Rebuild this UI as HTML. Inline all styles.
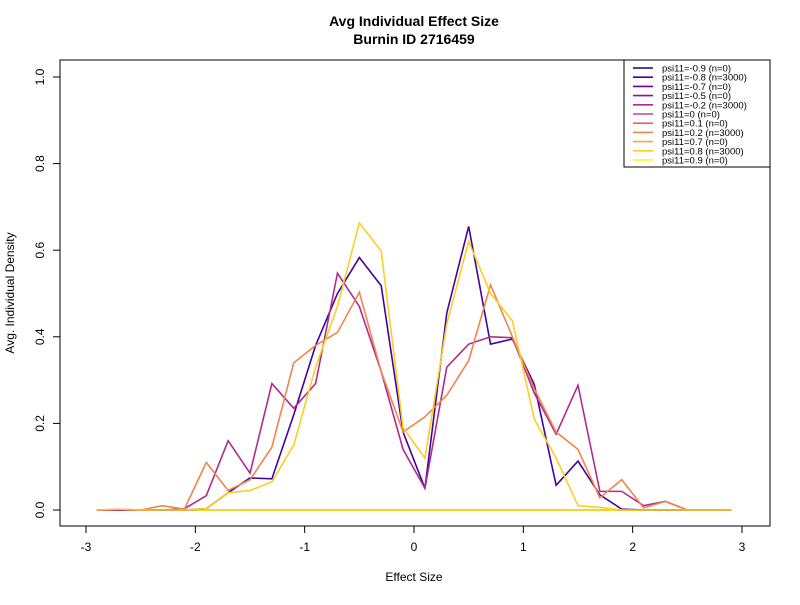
<!DOCTYPE html>
<html><head><meta charset="utf-8"><style>
body{margin:0;background:#fff;font-family:"Liberation Sans",sans-serif}
svg text{font-family:"Liberation Sans",sans-serif}
</style></head><body>
<svg id="chart" width="800" height="600">
<rect width="800" height="600" fill="#fff"/>
<text x="414" y="26" text-anchor="middle" font-size="14" font-weight="bold">Avg Individual Effect Size</text>
<text x="414" y="44" text-anchor="middle" font-size="14" font-weight="bold">Burnin ID 2716459</text>
<rect x="60" y="60" width="710" height="466" fill="none" stroke="#000"/>
<text x="414" y="581" text-anchor="middle" font-size="12">Effect Size</text>
<text transform="translate(14,293) rotate(-90)" text-anchor="middle" font-size="12">Avg. Individual Density</text>
<g id="axes"></g><g id="series"></g><g id="legend"></g>
</svg>
<script>
const xs=[-2.9,-2.7,-2.5,-2.3,-2.1,-1.9,-1.7,-1.5,-1.3,-1.1,-0.9,-0.7,-0.5,-0.3,-0.1,0.1,0.3,0.5,0.7,0.9,1.1,1.3,1.5,1.7,1.9,2.1,2.3,2.5,2.7,2.9];
const seriesNames=["psi11=-0.9 (n=0)","psi11=-0.8 (n=3000)","psi11=-0.7 (n=0)","psi11=-0.5 (n=0)","psi11=-0.2 (n=3000)","psi11=0 (n=0)","psi11=0.1 (n=0)","psi11=0.2 (n=3000)","psi11=0.7 (n=0)","psi11=0.8 (n=3000)","psi11=0.9 (n=0)"];
const seriesColors=["#0D0887","#41049D","#6A00A8","#8F0DA4","#B12A90","#CC4778","#E16462","#F2844B","#FCA636","#FCCE25","#F0F921"];
const zeros=xs.map(()=>0);
const vM08=[0,0,0,0,0,0.003,0.04,0.074,0.072,0.22,0.38,0.50,0.583,0.518,0.18,0.05,0.455,0.655,0.383,0.395,0.29,0.057,0.113,0.035,0.002,0,0,0,0,0];
const vM02=[0,0,0,0,0.003,0.033,0.16,0.085,0.292,0.235,0.292,0.547,0.47,0.32,0.14,0.05,0.33,0.383,0.4,0.398,0.27,0.175,0.288,0.043,0.043,0.01,0.02,0,0,0];
const vP02=[0,0.002,0,0.01,0.002,0.11,0.045,0.07,0.145,0.34,0.38,0.41,0.503,0.32,0.18,0.215,0.265,0.345,0.52,0.40,0.28,0.18,0.14,0.028,0.07,0.005,0.02,0,0,0];
const vP08=[0,0.002,0,0,0,0.003,0.04,0.045,0.065,0.15,0.33,0.47,0.663,0.598,0.19,0.12,0.43,0.62,0.50,0.437,0.21,0.12,0.01,0.006,0,0,0,0,0,0];
const seriesValues=[zeros,vM08,zeros,zeros,vM02,zeros,zeros,vP02,zeros,vP08,zeros];
const xTicks=[-3,-2,-1,0,1,2,3];
const yTicks=[0,0.2,0.4,0.6,0.8,1.0];
const yTickLabels=["0.0","0.2","0.4","0.6","0.8","1.0"];
const NS="http://www.w3.org/2000/svg";
const X=v=>414+v*109.33, Y=v=>510-v*433;
function mk(tag,attrs,parent){const e=document.createElementNS(NS,tag);for(const k in attrs)e.setAttribute(k,attrs[k]);parent.appendChild(e);return e;}
const axes=document.getElementById('axes');
mk('line',{x1:X(-3),x2:X(3),y1:526,y2:526,stroke:'#000'},axes);
xTicks.forEach(t=>{
 const l=mk('line',{x1:X(t),x2:X(t),y1:526,y2:533,stroke:'#000'},axes);
 
 
 const tx=mk('text',{x:X(t),y:551,'text-anchor':'middle','font-size':12},axes);tx.textContent=t;
 
 
});
mk('line',{x1:60,x2:60,y1:Y(0),y2:Y(1),stroke:'#000'},axes);
yTicks.forEach((t,i)=>{
 const l=mk('line',{x1:53,x2:60,y1:Y(t),y2:Y(t),stroke:'#000'},axes);
 
 
 const tx=mk('text',{transform:`translate(44,${Y(t)}) rotate(-90)`,'text-anchor':'middle','font-size':12},axes);tx.textContent=yTickLabels[i];
 
 
});
const sg=document.getElementById('series');
const order=[0,2,3,5,6,8,10,1,4,7,9];
order.forEach(i=>{
 const p=mk('polyline',{points:xs.map((x,j)=>X(x)+','+Y(seriesValues[i][j])).join(' '),fill:'none',stroke:seriesColors[i],'stroke-width':1.6},sg);
 
 
});
const lg=document.getElementById('legend');
const box=mk('rect',{x:624,y:60,width:146,height:107,fill:'#fff',stroke:'#000'},lg);


seriesNames.forEach((n,i)=>{
 const y=68+i*9.2;
 const l=mk('line',{x1:633,x2:653,y1:y,y2:y,stroke:seriesColors[i],'stroke-width':1.6},lg);
 
 
 const t=mk('text',{x:662,y:y+3.5,'font-size':9.5},lg);t.textContent=n;
 
 
});
</script>
</body></html>
